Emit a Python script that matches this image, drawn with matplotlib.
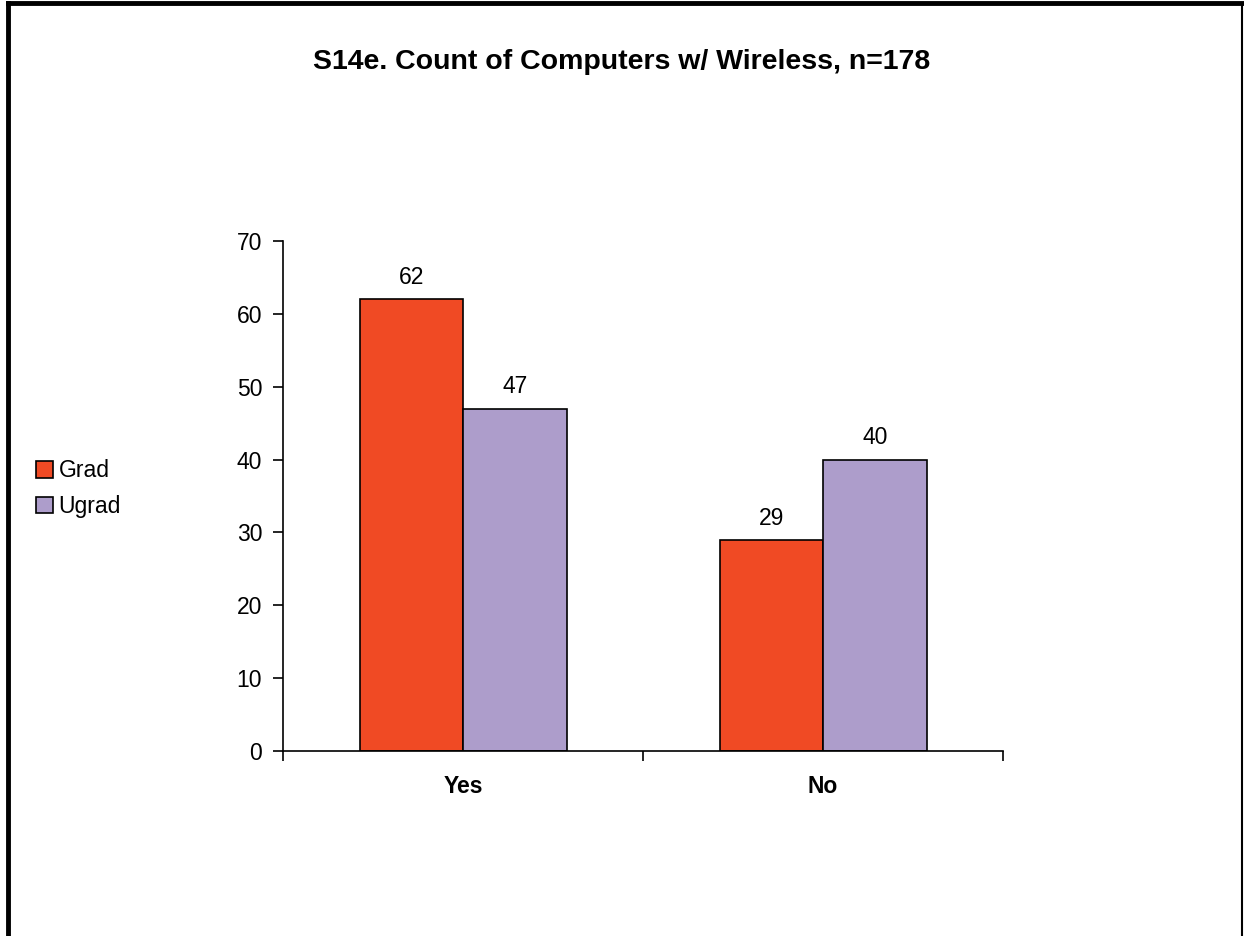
import numpy as np
import matplotlib.pyplot as plt

categories = ['Yes', 'No']
series_names = ['Grad', 'Ugrad']
grad_counts = [62, 29]
ugrad_counts = [47, 40]
y_ticks = [0, 10, 20, 30, 40, 50, 60, 70]

plt.rcParams['font.family'] = ['Liberation Sans', 'DejaVu Sans']

fig = plt.figure(figsize=(12.44, 9.36), dpi=100)
ax = fig.add_axes([0.2275, 0.1976, 0.5788, 0.5449])

# outer frame like the original chart area (no bottom edge)
fig.add_artist(plt.Line2D([0.0064, 0.0064], [0, 0.9968], color='black', lw=3.5, transform=fig.transFigure))
fig.add_artist(plt.Line2D([0.0064, 0.9985], [0.9968, 0.9968], color='black', lw=3.5, transform=fig.transFigure))
fig.add_artist(plt.Line2D([0.9985, 0.9985], [0, 0.9968], color='black', lw=1.5, transform=fig.transFigure))

x = np.arange(len(categories)) + 0.5
width = 0.2875
colors = ['#F04A24', '#AD9DCB']

bars1 = ax.bar(x - width / 2, grad_counts, width, color=colors[0], edgecolor='black', linewidth=1.2, label=series_names[0])
bars2 = ax.bar(x + width / 2, ugrad_counts, width, color=colors[1], edgecolor='black', linewidth=1.2, label=series_names[1])

for bars, vals in [(bars1, grad_counts), (bars2, ugrad_counts)]:
    for b, v in zip(bars, vals):
        ax.text(b.get_x() + b.get_width() / 2, v + 1.4, str(v), ha='center', va='bottom', fontsize=16.5)

ax.set_xlim(0, len(categories))
ax.set_ylim(0, 70)
ax.set_yticks(y_ticks)
ax.tick_params(axis='y', labelsize=16.5, length=7, width=1.2, pad=8)

# category boundaries as x ticks, labels at centres
ax.set_xticks(np.arange(len(categories) + 1))
ax.set_xticklabels([])
ax.set_xticks(x, minor=True)
ax.set_xticklabels(categories, minor=True, fontsize=16.5, fontweight='bold')
ax.tick_params(axis='x', which='major', length=7, width=1.2, direction='out')
ax.tick_params(axis='x', which='minor', length=0, pad=17)

for s in ['top', 'right']:
    ax.spines[s].set_visible(False)
ax.spines['left'].set_linewidth(1.2)
ax.spines['bottom'].set_linewidth(1.2)

fig.text(0.5, 0.934, 'S14e. Count of Computers w/ Wireless, n=178', ha='center', va='center', fontsize=20.5, fontweight='bold')

leg = fig.legend(handles=[bars1, bars2], labels=series_names, loc='center left', bbox_to_anchor=(0.012, 0.478),
                 frameon=False, fontsize=16.5, handlelength=0.75, handleheight=0.75, handletextpad=0.25, labelspacing=0.55)

fig.savefig('out.png', dpi=100)
